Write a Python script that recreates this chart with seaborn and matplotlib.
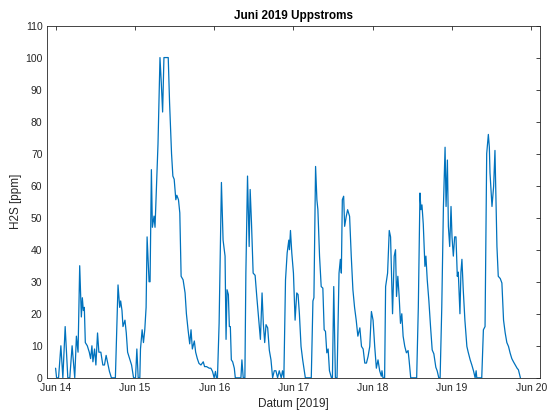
import matplotlib
matplotlib.use("Agg")
import matplotlib.pyplot as plt
import matplotlib.dates as mdates
import numpy as np
import pandas as pd
import seaborn as sns

# ---- data: hours since 2019-06-14 00:00 and H2S in ppm, one pair per day ----
t_jun14 = [0.0, 0.3, 0.9, 1.6, 2.2, 2.9, 3.7, 4.3, 5.0, 5.8, 6.3, 6.8, 7.3, 7.8, 8.1,
           8.4, 8.7, 9.0, 9.6, 10.2, 10.6, 11.0, 11.3, 11.8, 12.2, 12.7, 13.1, 13.7,
           14.3, 14.8, 15.3, 15.9, 16.3, 16.9, 18.1, 18.3, 18.9, 19.4, 19.7, 20.1,
           20.4, 21.0, 21.4, 21.8, 22.4, 23.0, 23.6]
v_jun14 = [3, 0, 0, 10, 0, 16, 0, 0, 10, 0, 13, 8, 35, 19, 25,
           21, 22, 11, 10, 8, 6, 10, 5, 9, 4, 14, 8, 8,
           4, 4, 7, 4, 2, 0, 0, 7, 29, 22, 24, 21,
           16, 18, 14, 8, 6, 4, 0]

t_jun15 = [24.2, 24.6, 25.0, 25.5, 25.7, 26.2, 26.6, 27.0, 27.4, 27.7, 28.3, 28.6,
           29.0, 29.3, 29.8, 30.1, 30.5, 31.0, 31.6, 32.0, 32.4, 32.8, 34.1, 34.5,
           35.1, 35.5, 35.9, 36.4, 36.7, 37.2, 37.6, 38.0, 38.6, 39.2, 39.6, 40.1,
           40.6, 41.0, 41.4, 42.0, 42.4, 42.9, 43.4, 44.0, 44.7, 45.1, 45.7, 46.5,
           47.0, 47.5]
v_jun15 = [0, 9, 0, 0, 9, 15, 11, 15, 22, 44, 30, 30,
           65, 47, 50.5, 47, 59, 73, 100, 92, 83, 100, 100, 86,
           70, 63, 62, 55.6, 57, 55.6, 51.5, 31.7, 30.6, 26.5, 20, 15,
           10.6, 15, 9, 11.5, 8, 6, 4.5, 4, 5, 3.5, 3.5, 3,
           3, 2]

t_jun16 = [48.0, 48.4, 48.7, 49.0, 49.5, 50.2, 50.7, 51.3, 51.6, 51.9, 52.3, 52.6,
           52.9, 53.2, 53.6, 54.1, 54.4, 56.1, 56.4, 56.8, 57.3, 57.6, 58.1, 58.6,
           58.9, 59.3, 59.8, 60.4, 60.9, 61.5, 62.0, 62.5, 62.9, 63.3, 63.7, 64.2,
           64.7, 65.2, 65.7, 66.2, 66.7, 67.2, 67.7, 68.3, 68.7, 69.1, 69.6, 70.1,
           70.6, 70.8, 71.1, 71.5]
v_jun16 = [0, 2, 0, 0, 17, 61, 43, 38, 12, 27.5, 26, 16,
           16, 5.6, 5, 3, 0, 0, 5.6, 0, 0, 32.7, 63, 41,
           58.8, 48.4, 32.7, 32, 25.4, 18, 12, 26.5, 16.6, 11, 16.6, 15.6,
           8.6, 5.6, 0, 2.2, 2.2, 0, 2.2, 0, 2.2, 0, 30.6, 39,
           43, 40, 46, 39]

t_jun17 = [72.0, 72.5, 73.0, 73.4, 73.8, 74.3, 74.8, 75.6, 77.4, 77.9, 78.2, 78.7,
           79.1, 79.4, 79.9, 80.4, 80.9, 81.3, 81.7, 82.1, 82.5, 82.9, 83.5, 83.8,
           84.2, 84.7, 85.2, 85.8, 86.2, 86.5, 86.8, 87.2, 87.5, 88.0, 88.4, 89.0,
           89.5, 90.0, 90.5, 91.0, 91.5, 92.1, 92.6, 93.1, 93.6, 94.1, 94.6, 95.1,
           95.6]
v_jun17 = [32.7, 18, 26.5, 26, 20, 9.8, 5.6, 0, 0, 24, 25, 66,
           55.6, 52.5, 38, 28.5, 28, 15, 14.5, 7.8, 9, 2.2, 0, 0,
           28.5, 0, 0, 32.7, 37, 32.7, 55.6, 56.7, 47.3, 50.5, 52.5, 50.4,
           38, 27.5, 22, 18, 13, 15.6, 9.8, 9, 4.6, 4.6, 6.7, 9.8,
           20.7]

t_jun18 = [96.1, 96.6, 97.1, 97.6, 98.1, 98.6, 98.8, 99.1, 99.6, 99.9, 100.5, 101.0,
           101.4, 102.0, 102.5, 102.9, 103.2, 103.6, 104.0, 104.4, 104.8, 105.2,
           105.7, 106.2, 106.7, 107.0, 107.5, 109.3, 109.8, 110.3, 110.6, 110.9,
           111.3, 111.8, 112.1, 112.5, 113.0, 113.5, 114.0, 114.5, 115.1, 115.5,
           116.0, 116.4, 116.9, 117.4, 117.9, 118.2, 118.6, 118.9, 119.3, 119.7]
v_jun18 = [18, 9.8, 3, 5.6, 2.2, 0.5, 2.2, 0, 0, 28.5, 32.7, 46,
           44, 20, 38, 40, 25.4, 31.7, 25.4, 17, 20, 13,
           9.8, 7.8, 8.5, 5.6, 0, 0, 22, 57.7, 52.5, 54,
           48, 34.8, 38, 30.6, 24, 16, 8.7, 7.5, 3.3, 2.2,
           0, 0, 22, 53.5, 72, 53.5, 68, 47.3, 41, 53.5]

t_jun19 = [120.0, 120.4, 120.8, 121.2, 121.6, 121.9, 122.4, 122.7, 123.0, 123.4,
           123.9, 124.5, 124.9, 125.5, 126.0, 126.5, 127.0, 127.3, 127.5, 129.0,
           129.5, 130.0, 130.5, 131.0, 131.3, 131.5, 132.1, 132.6, 133.0, 133.3,
           133.6, 134.0, 134.6, 135.1, 135.6, 136.1, 136.6, 137.1, 137.6, 138.1,
           138.6, 139.7, 140.1, 140.7]
v_jun19 = [44, 38, 44, 44, 31.7, 33, 20, 33, 37, 27.5,
           18, 9.8, 8, 5.6, 4, 2.2, 0, 2.2, 0, 0,
           15, 16, 70, 76, 72, 64, 53.5, 59.8, 71, 56.7,
           41, 31.7, 31, 29.6, 18, 14, 11, 9.8, 7.7, 6,
           5, 3, 2.5, 0]

start = pd.Timestamp("2019-06-14 00:00")
hours = t_jun14 + t_jun15 + t_jun16 + t_jun17 + t_jun18 + t_jun19
ppm = v_jun14 + v_jun15 + v_jun16 + v_jun17 + v_jun18 + v_jun19
df = pd.DataFrame({"Datum": start + pd.to_timedelta(hours, unit="h"), "H2S": ppm})

sns.set_style("white")
plt.rcParams["font.family"] = ["Liberation Sans", "DejaVu Sans"]

fig = plt.figure(figsize=(5.49, 4.12), dpi=100)
ax = fig.add_axes([0.085, 0.083, 0.899, 0.855])

sns.lineplot(data=df, x="Datum", y="H2S", ax=ax, color="#0072BD",
             linewidth=0.9, estimator=None, sort=False)

ax.set_ylim(0, 110)
ax.set_yticks(np.arange(0, 111, 10))
ax.set_xlim(start - pd.Timedelta(hours=2.7), start + pd.Timedelta(days=6, hours=2.7))
ax.set_xticks(pd.date_range("2019-06-14", "2019-06-20", freq="D"))
ax.xaxis.set_major_formatter(mdates.DateFormatter("%b %d"))

axis_col = "#262626"
for s in ax.spines.values():
    s.set_color(axis_col)
    s.set_linewidth(0.6)
    s.set_visible(True)
ax.tick_params(direction="in", top=True, right=True, length=3, width=0.6,
               colors=axis_col, labelsize=7.5)
ax.tick_params(axis="x", pad=4)
ax.tick_params(axis="y", pad=3)
for lab in ax.get_xticklabels() + ax.get_yticklabels():
    lab.set_color(axis_col)

ax.set_xlabel("Datum [2019]", fontsize=8.5, color=axis_col, labelpad=3)
ax.set_ylabel("H2S [ppm]", fontsize=8.5, color=axis_col, labelpad=2)
ax.set_title("Juni 2019 Uppstroms", fontsize=8.5, fontweight="bold", color="black", pad=5)
ax.grid(False)

fig.savefig("out.png", dpi=100)
